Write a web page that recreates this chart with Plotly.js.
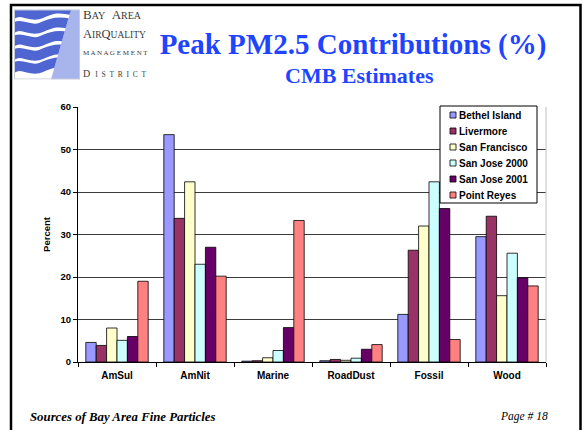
<!DOCTYPE html>
<html>
<head>
<meta charset="utf-8">
<script src="https://cdn.plot.ly/plotly-3.0.1.min.js"></script>
<style>html,body{margin:0;padding:0;background:#fff}#chart{width:587px;height:430px}</style>
</head>
<body>
<div id="chart"></div>
<script>
// ---- Data ----
const categories = ['AmSul', 'AmNit', 'Marine', 'RoadDust', 'Fossil', 'Wood'];
const seriesNames = ['Bethel Island', 'Livermore', 'San Francisco', 'San Jose 2000', 'San Jose 2001', 'Point Reyes'];
const bethelIsland = [4.6, 53.5, 0.2, 0.3, 11.2, 29.5];
const livermore    = [3.9, 33.8, 0.3, 0.6, 26.3, 34.3];
const sanFrancisco = [8.0, 42.4, 1.0, 0.4, 32.0, 15.6];
const sanJose2000  = [5.1, 23.0, 2.7, 0.9, 42.4, 25.6];
const sanJose2001  = [6.0, 27.0, 8.1, 3.0, 36.1, 19.8];
const pointReyes   = [19.0, 20.2, 33.3, 4.1, 5.3, 17.9];
const yTickValues  = [0, 10, 20, 30, 40, 50, 60];

// ---- Styling ----
const seriesValues = [bethelIsland, livermore, sanFrancisco, sanJose2000, sanJose2001, pointReyes];
const colors = ['#9999FF', '#993366', '#FFFFCC', '#CCFFFF', '#660066', '#FF8080'];
const SANS = 'Liberation Sans, Arial, sans-serif';
const SERIF = 'Liberation Serif, Times New Roman, serif';
const TITLE_BLUE = '#1f44ff';

const W = 587, H = 430;
const M = {l: 78, r: 41, t: 107, b: 68};
const PW = W - M.l - M.r, PH = H - M.t - M.b;
const px = x => (x - M.l) / PW;
const py = y => (H - M.b - y) / PH;

const traces = seriesNames.map((name, i) => ({
  type: 'bar',
  name: name,
  x: categories,
  y: seriesValues[i],
  marker: {color: colors[i], line: {color: '#000', width: 0.8}},
  hoverinfo: 'x+y+name'
}));

// Logo graphic (decoration)
const logoSvg =
  '<svg xmlns="http://www.w3.org/2000/svg" width="66" height="70" viewBox="0 0 66 70">' +
  '<defs><clipPath id="c"><polygon points="0,0 57,0 37,70 0,70"/></clipPath></defs>' +
  '<rect x="0" y="0" width="66" height="70" fill="#ffffff"/>' +
  '<polygon points="57,0 66,0 66,70 37,70" fill="#a7b5ec"/>' +
  '<g clip-path="url(#c)" fill="none" stroke="#4f66d2" stroke-width="10">' +
  [4, 18, 31.5, 45, 58].map(y =>
    '<path d="M-2,' + (y + 1) + ' C8,' + (y - 6) + ' 16,' + (y + 5) + ' 27,' + y +
    ' S44,' + (y - 7) + ' 60,' + (y - 3) + '"/>').join('') +
  '<rect x="0" y="0" width="60" height="3" fill="#4f66d2" stroke="none"/>' +
  '</g>' +
  '<rect x="0.5" y="0.5" width="65" height="69" fill="none" stroke="#c8cbd8" stroke-width="1"/>' +
  '</svg>';

const logoColor = '#3a3a3a';
const SP = '\u2002';
const annotations = [
  {text: 'CMB Estimates', x: 353.5 / W, y: py(75), yanchor: 'middle', xanchor: 'center',
   font: {family: SERIF, size: 22, color: TITLE_BLUE, weight: 'bold'}},
  {text: 'B<span style="font-size:10px">AY</span>' + SP + 'A<span style="font-size:10px">REA</span>', x: px(81), y: py(15),
   xanchor: 'left', yanchor: 'middle', font: {family: SERIF, size: 13, color: logoColor}},
  {text: 'A<span style="font-size:9.5px">IR</span>Q<span style="font-size:9.5px">UALITY</span>', x: px(81), y: py(34),
   xanchor: 'left', yanchor: 'middle', font: {family: SERIF, size: 12.5, color: logoColor}},
  {text: 'M A N A G E M E N T', x: px(81), y: py(53),
   xanchor: 'left', yanchor: 'middle', font: {family: SERIF, size: 7, color: logoColor}},
  {text: 'D' + SP + '<span style="font-size:7.5px">' + 'ISTRICT'.split('').join(SP) + '</span>', x: px(81), y: py(73),
   xanchor: 'left', yanchor: 'middle', font: {family: SERIF, size: 10, color: logoColor}},
  {text: '<b><i>Sources of Bay Area Fine Particles</i></b>', x: px(28), y: py(417),
   xanchor: 'left', yanchor: 'middle', font: {family: SERIF, size: 12.8, color: '#000'}},
  {text: '<i>Page # 18</i>', x: px(550), y: py(416),
   xanchor: 'right', yanchor: 'middle', font: {family: SERIF, size: 11.5, color: '#000'}}
];

// Legend drawn to match the reference's compact layout
const LEG = {x0: 440, x1: 537, y0: 106, y1: 203, row0: 115, rowStep: 16, sq: 6, sqX: 450, textX: 457};
const legendShapes = [
  {type: 'rect', xref: 'paper', yref: 'paper', x0: px(LEG.x0), x1: px(LEG.x1), y0: py(LEG.y0), y1: py(LEG.y1),
   line: {color: '#000', width: 1}, fillcolor: '#fff', layer: 'above'}
];
seriesNames.forEach((name, i) => {
  const cy = LEG.row0 + i * LEG.rowStep;
  legendShapes.push({type: 'rect', xref: 'paper', yref: 'paper',
    x0: px(LEG.sqX), x1: px(LEG.sqX + LEG.sq), y0: py(cy - LEG.sq / 2), y1: py(cy + LEG.sq / 2),
    line: {color: '#000', width: 0.8}, fillcolor: colors[i], layer: 'above'});
  annotations.push({text: name, x: px(LEG.textX), y: py(cy), xanchor: 'left', yanchor: 'middle',
    font: {family: SANS, size: 10, color: '#000', weight: 'bold'}});
});

const layout = {
  width: W, height: H,
  margin: M,
  paper_bgcolor: '#fff', plot_bgcolor: '#fff',
  title: {
    text: 'Peak PM2.5 Contributions (%)',
    font: {family: SERIF, size: 29, color: TITLE_BLUE, weight: 'bold'},
    x: 353 / W, xanchor: 'center', xref: 'container',
    y: 1 - 44 / H, yanchor: 'middle', yref: 'container'
  },
  showlegend: false,
  barmode: 'group', bargap: 0.2, bargroupgap: 0,
  xaxis: {
    type: 'category', range: [-0.5, categories.length - 0.5],
    showline: true, linecolor: '#000', linewidth: 1,
    ticks: 'outside', tickson: 'boundaries', ticklen: 4, tickcolor: '#000',
    ticklabelstandoff: 4,
    tickfont: {family: SANS, size: 10, color: '#000', weight: 'bold'},
    showgrid: false, zeroline: false, fixedrange: true
  },
  yaxis: {
    range: [0, 60], tickvals: yTickValues,
    showline: true, linecolor: '#000', linewidth: 1,
    ticks: 'outside', ticklen: 4, tickcolor: '#000',
    tickfont: {family: SANS, size: 9.5, color: '#000', weight: 'bold'},
    showgrid: true, gridcolor: '#3c3c3c', gridwidth: 1, zeroline: false,
    title: {text: 'Percent', font: {family: SANS, size: 9.5, color: '#000', weight: 'bold'}, standoff: 8},
    fixedrange: true
  },
  shapes: [
    {type: 'line', xref: 'paper', yref: 'paper', x0: 1, x1: 1, y0: 0, y1: 1, line: {color: '#c0c0c0', width: 1}},
    {type: 'rect', xref: 'paper', yref: 'paper', x0: px(11), x1: px(580.5), y0: py(5), y1: py(450),
     line: {color: '#000', width: 2.5}, fillcolor: 'rgba(0,0,0,0)', layer: 'above'}
  ].concat(legendShapes),
  images: [{
    source: 'data:image/svg+xml;charset=utf-8,' + encodeURIComponent(logoSvg),
    xref: 'paper', yref: 'paper', x: px(14), y: py(9.5), sizex: 66 / PW, sizey: 70 / PH,
    xanchor: 'left', yanchor: 'top', sizing: 'stretch', layer: 'above'
  }],
  annotations: annotations.map(a => Object.assign({xref: 'paper', yref: 'paper', showarrow: false}, a))
};

Plotly.newPlot('chart', traces, layout, {displayModeBar: false, staticPlot: true});
</script>
</body>
</html>
